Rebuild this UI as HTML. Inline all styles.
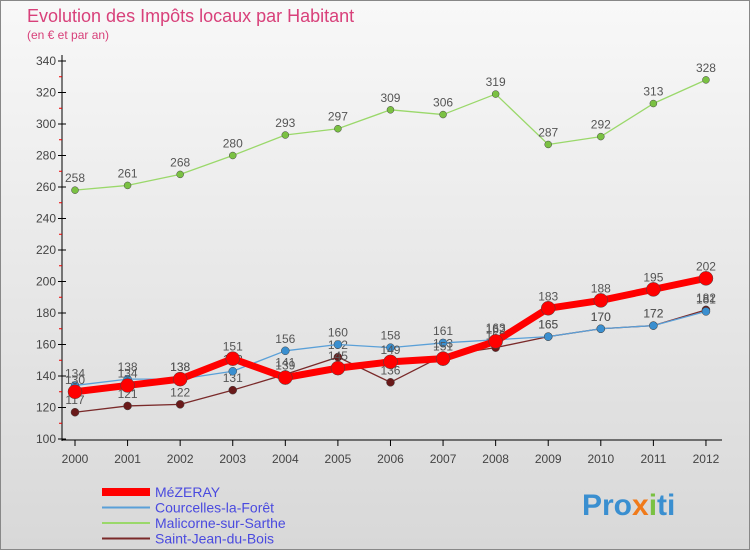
<!DOCTYPE html>
<html><head><meta charset="utf-8"><style>
body{margin:0;width:750px;height:550px;overflow:hidden;font-family:"Liberation Sans",sans-serif}
</style></head><body>
<svg width="750" height="550" xmlns="http://www.w3.org/2000/svg">
<defs><linearGradient id="bg" x1="0" y1="0" x2="0" y2="1"><stop offset="0" stop-color="#f8f8f8"/><stop offset="1" stop-color="#d8d8d8"/></linearGradient></defs>
<rect x="0.5" y="0.5" width="749" height="549" fill="url(#bg)" stroke="#888"/>
<text x="27" y="22" font-size="18" fill="#d8407a">Evolution des Impôts locaux par Habitant</text>
<text x="27" y="39" font-size="12" fill="#d8407a">(en € et par an)</text>
<g id="axes"></g><g id="series"></g><g id="legend"></g>
<text x="582" y="515" font-size="30" font-weight="bold" fill="#3a8fd0">Pro<tspan fill="#f07a1a">x</tspan><tspan fill="#7ac142">i</tspan>ti</text>
</svg>
<script>
const years=["2000","2001","2002","2003","2004","2005","2006","2007","2008","2009","2010","2011","2012"];
const yTicks=[100,120,140,160,180,200,220,240,260,280,300,320,340];
const mezeray=[130,134,138,151,139,145,149,151,162,183,188,195,202];
const courcelles=[134,138,138,143,156,160,158,161,163,165,170,172,181];
const malicorne=[258,261,268,280,293,297,309,306,319,287,292,313,328];
const saintJean=[117,121,122,131,141,152,136,153,158,165,170,172,182];
const NS="http://www.w3.org/2000/svg";
const x=i=>75+i*52.58, y=v=>439-(v-100)*1.575;
function mk(tag,attrs,parent){const e=document.createElementNS(NS,tag);for(const k in attrs)e.setAttribute(k,attrs[k]);parent.appendChild(e);return e;}
const ax=document.getElementById('axes');
let l=mk('line',{x1:62,y1:55,x2:62,y2:441,stroke:'#000'},ax);


l=mk('line',{x1:62,y1:440,x2:722,y2:440,stroke:'#000'},ax);


yTicks.forEach((v,i)=>{
 mk('line',{x1:58,y1:y(v),x2:66,y2:y(v),stroke:'#000'},ax);
 if(i<yTicks.length-1){mk('line',{x1:59,y1:y(v+10),x2:62,y2:y(v+10),stroke:'#e00'},ax);}
 const t=mk('text',{x:56,y:y(v)+4,'font-size':12,'text-anchor':'end',fill:'#444'},ax);
 t.textContent=v;
 
 
});
years.forEach((yr,i)=>{
 mk('line',{x1:x(i),y1:440,x2:x(i),y2:446,stroke:'#000'},ax);
 const t=mk('text',{x:x(i),y:463,'font-size':12,'text-anchor':'middle',fill:'#444'},ax);
 t.textContent=yr;
 
 
});
const sg=document.getElementById('series');
function draw(data,color,w,r,name,dot){
 const g=mk('g',{},sg);
 
 
 const p=mk('polyline',{points:data.map((v,i)=>x(i)+','+y(v)).join(' '),fill:'none',stroke:color,'stroke-width':w,'stroke-linejoin':'round'},g);
 
 
 data.forEach((v,i)=>{
  const c=mk('circle',{cx:x(i),cy:y(v),r:r,fill:dot,stroke:'#444','stroke-width':0.5},g);
  
  
  const t=mk('text',{x:x(i),y:y(v)-8,'font-size':12,'text-anchor':'middle',fill:'#555'},g);
  t.textContent=v;
  
  
 });
}
draw(malicorne,'#9ad86a',1.3,3.5,'malicorne','#7ac142');
draw(saintJean,'#7a2a2a',1.3,4,'saint-jean','#6a1a1a');
draw(courcelles,'#5aa0d8',1.3,4,'courcelles','#3a8fd0');
draw(mezeray,'#f00',7,7,'mezeray','#f00');
const lg=document.getElementById('legend');
const items=[["MéZERAY","#f00",8],["Courcelles-la-Forêt","#5aa0d8",2],["Malicorne-sur-Sarthe","#9ad86a",2],["Saint-Jean-du-Bois","#7a2a2a",2]];
items.forEach((it,i)=>{
 const yy=492+i*15.5;
 const ln=mk('line',{x1:102,y1:yy,x2:150,y2:yy,stroke:it[1],'stroke-width':it[2]},lg);
 
 
 const t=mk('text',{x:155,y:yy+5,'font-size':14,fill:'#4a4adf'},lg);
 t.textContent=it[0];
 
 
});
</script>
</body></html>
